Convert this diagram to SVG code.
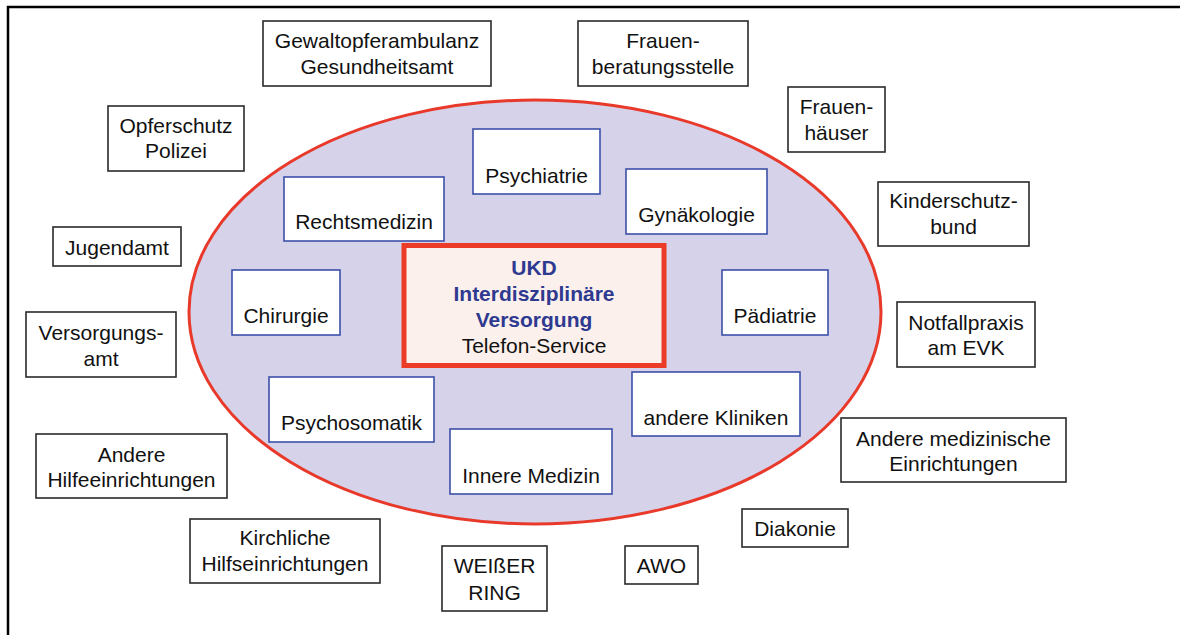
<svg xmlns="http://www.w3.org/2000/svg" width="1180" height="635" viewBox="0 0 1180 635">
<style>
text{font-family:"Liberation Sans",Arial,sans-serif;font-size:21px;fill:#111;text-anchor:middle}
.o{fill:#fff;stroke:#2a2a2a;stroke-width:1.6}
.i{fill:#fff;stroke:#3d50a8;stroke-width:1.6}
.b{font-weight:bold;fill:#2e3990}
</style>
<rect width="1180" height="635" fill="#fff"/>
<path d="M8,635 V7 H1180" fill="none" stroke="#000" stroke-width="2.5"/>
<g id="ellipse"><ellipse cx="535" cy="312" rx="346" ry="212" fill="#d5d2e9" stroke="#e8392a" stroke-width="3"/></g>
<g id="center">
<rect x="404" y="245.5" width="260" height="120" fill="#fcf0ec" stroke="#ec3b26" stroke-width="5"/>
<text x="534" y="275" class="b">UKD</text>
<text x="534" y="301" class="b">Interdisziplinäre</text>
<text x="534" y="327" class="b">Versorgung</text>
<text x="534" y="353">Telefon-Service</text>
</g>
<g id="psychiatrie"><rect class="i" x="473" y="129" width="127" height="65"/><text x="536.5" y="183">Psychiatrie</text></g>
<g id="rechtsmedizin"><rect class="i" x="284" y="177" width="160" height="64"/><text x="364" y="229">Rechtsmedizin</text></g>
<g id="gynaekologie"><rect class="i" x="626" y="169" width="141" height="65"/><text x="696.5" y="222">Gynäkologie</text></g>
<g id="chirurgie"><rect class="i" x="232" y="270" width="108" height="65"/><text x="286" y="323">Chirurgie</text></g>
<g id="paediatrie"><rect class="i" x="722" y="270" width="106" height="65"/><text x="775" y="323">Pädiatrie</text></g>
<g id="psychosomatik"><rect class="i" x="269" y="377" width="165" height="65"/><text x="351.5" y="430">Psychosomatik</text></g>
<g id="andere-kliniken"><rect class="i" x="632" y="372" width="168" height="64"/><text x="716" y="425">andere Kliniken</text></g>
<g id="innere-medizin"><rect class="i" x="450" y="429" width="162" height="65"/><text x="531" y="483">Innere Medizin</text></g>

<g id="gewaltopferambulanz"><rect class="o" x="263" y="21" width="228" height="65"/><text x="377" y="48">Gewaltopferambulanz</text><text x="377" y="74">Gesundheitsamt</text></g>
<g id="frauenberatungsstelle"><rect class="o" x="578" y="21" width="170" height="65"/><text x="663" y="48">Frauen-</text><text x="663" y="74">beratungsstelle</text></g>
<g id="opferschutz"><rect class="o" x="108" y="106" width="136" height="65"/><text x="176" y="133">Opferschutz</text><text x="176" y="158">Polizei</text></g>
<g id="frauenhaeuser"><rect class="o" x="788" y="87" width="97" height="65"/><text x="836.5" y="114">Frauen-</text><text x="836.5" y="140">häuser</text></g>
<g id="kinderschutzbund"><rect class="o" x="878" y="182" width="151" height="64"/><text x="953.5" y="208">Kinderschutz-</text><text x="953.5" y="234">bund</text></g>
<g id="jugendamt"><rect class="o" x="53" y="227" width="128" height="39"/><text x="117" y="255">Jugendamt</text></g>
<g id="versorgungsamt"><rect class="o" x="26" y="312" width="150" height="65"/><text x="101" y="340">Versorgungs-</text><text x="101" y="366">amt</text></g>
<g id="notfallpraxis"><rect class="o" x="897" y="302" width="138" height="65"/><text x="966" y="330">Notfallpraxis</text><text x="966" y="355">am EVK</text></g>
<g id="andere-hilfeeinrichtungen"><rect class="o" x="36" y="434" width="191" height="64"/><text x="131.5" y="462">Andere</text><text x="131.5" y="487">Hilfeeinrichtungen</text></g>
<g id="andere-medizinische"><rect class="o" x="841" y="418" width="225" height="64"/><text x="953.5" y="446">Andere medizinische</text><text x="953.5" y="471">Einrichtungen</text></g>
<g id="kirchliche"><rect class="o" x="190" y="519" width="190" height="64"/><text x="285" y="545">Kirchliche</text><text x="285" y="571">Hilfseinrichtungen</text></g>
<g id="weisser-ring"><rect class="o" x="442" y="546" width="105" height="65"/><text x="494.5" y="573">WEIßER</text><text x="494.5" y="600">RING</text></g>
<g id="awo"><rect class="o" x="625" y="546" width="73" height="38"/><text x="661.5" y="573">AWO</text></g>
<g id="diakonie"><rect class="o" x="742" y="509" width="106" height="38"/><text x="795" y="536">Diakonie</text></g>
</svg>
